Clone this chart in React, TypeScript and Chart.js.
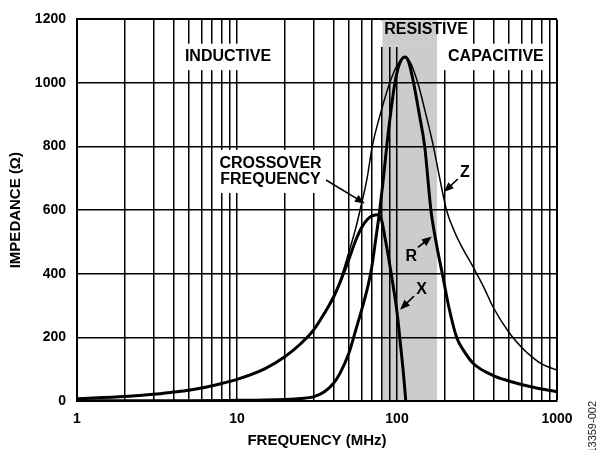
import React, { useEffect, useRef } from 'react';
import { Chart, registerables } from 'chart.js';

Chart.register(...registerables);

const FONT = '"Liberation Sans", Arial, Helvetica, sans-serif';

// Impedance magnitude Z (thin line)
const zFreq = [1, 2, 3, 4, 5, 6, 7, 8, 10, 15, 20, 25, 30, 35, 40, 44, 50, 55, 60, 65, 70, 80, 90, 100, 112, 120, 135, 150, 169, 185, 204, 230, 250, 300, 350, 400, 500, 600, 700, 800, 1000];
const zVals = [7, 14, 21, 28, 34, 41, 48, 55, 68, 102, 140, 180, 224, 276, 330, 378, 468, 540, 620, 700, 800, 915, 1000, 1055, 1080, 1068, 1000, 910, 800, 700, 600, 530, 492, 420, 356, 294, 216, 169, 138, 117, 97];

// Resistance R (thick line)
const rFreq = [1, 5, 10, 15, 20, 25, 30, 35, 40, 44, 50, 55, 60, 65, 69.5, 73, 78, 82, 88, 97, 104, 112, 118, 127, 138, 149, 163, 177, 192, 212, 236, 260, 300, 400, 500, 600, 700, 800, 1000];
const rVals = [1, 1, 2, 3, 5, 8, 13, 28, 55, 87, 150, 220, 285, 350, 420, 495, 600, 695, 840, 1000, 1062, 1082, 1068, 1000, 900, 800, 600, 490, 400, 290, 200, 160, 118, 80, 63, 52, 44, 38, 29];

// Reactance X (thick line)
const xFreq = [1, 2, 3, 4, 5, 6, 7, 8, 10, 15, 20, 25, 30, 35, 40, 44, 50, 55, 60, 65, 70, 76, 80, 84, 88, 91, 94.4, 100, 105, 110, 113.5];
const xVals = [7, 14, 21, 28, 34, 41, 48, 55, 68, 102, 140, 180, 222, 274, 325, 372, 445, 503, 545, 570, 582, 586, 570, 515, 460, 415, 365, 280, 180, 80, 0];

const gridFreqs = [1, 2, 3, 4, 5, 6, 7, 8, 9, 10, 20, 30, 40, 50, 60, 70, 80, 90, 100, 200, 300, 400, 500, 600, 700, 800, 900, 1000];
const labeledFreqs = [1, 10, 100, 1000];
const yTicks = [0, 200, 400, 600, 800, 1000, 1200];
const resistiveBand = [80, 178];

// Annotation anchors in data units (frequency MHz, impedance ohm)
const boxedLabels = [
  { lines: ['INDUCTIVE'], f: 8.79, v: 1082 },
  { lines: ['CAPACITIVE'], f: 415, v: 1082 },
  { lines: ['RESISTIVE'], f: 152, v: 1167 },
  { lines: ['CROSSOVER', 'FREQUENCY'], f: 16.2, v: 722 },
];
const letterLabels = [
  { text: 'Z', f: 266, v: 717, from: [240, 698], to: [196, 657] },
  { text: 'R', f: 123, v: 455, from: [135, 483], to: [165, 517] },
  { text: 'X', f: 142.6, v: 349, from: [127.7, 330], to: [104.5, 287] },
];
const crossoverArrow = { from: [36, 695], to: [63, 621] };

function drawArrow(ctx: CanvasRenderingContext2D, x0: number, y0: number, x1: number, y1: number) {
  const ang = Math.atan2(y1 - y0, x1 - x0);
  const head = 10;
  const half = 4;
  ctx.save();
  ctx.strokeStyle = '#000';
  ctx.fillStyle = '#000';
  ctx.lineWidth = 1.6;
  ctx.beginPath();
  ctx.moveTo(x0, y0);
  ctx.lineTo(x1 - Math.cos(ang) * head * 0.8, y1 - Math.sin(ang) * head * 0.8);
  ctx.stroke();
  ctx.beginPath();
  ctx.moveTo(x1, y1);
  ctx.lineTo(x1 - Math.cos(ang) * head - Math.sin(ang) * half, y1 - Math.sin(ang) * head + Math.cos(ang) * half);
  ctx.lineTo(x1 - Math.cos(ang) * head + Math.sin(ang) * half, y1 - Math.sin(ang) * head - Math.cos(ang) * half);
  ctx.closePath();
  ctx.fill();
  ctx.restore();
}

const overlayPlugin = {
  id: 'overlay',
  beforeDraw(chart: any) {
    const { ctx, chartArea, scales } = chart;
    const x0 = scales.x.getPixelForValue(resistiveBand[0]);
    const x1 = scales.x.getPixelForValue(resistiveBand[1]);
    ctx.save();
    ctx.fillStyle = '#cccccc';
    ctx.fillRect(x0, chartArea.top, x1 - x0, chartArea.bottom - chartArea.top);
    ctx.restore();
  },
  beforeDatasetsDraw(chart: any) {
    const { ctx, chartArea, scales } = chart;
    const bx0 = scales.x.getPixelForValue(resistiveBand[0]);
    const bx1 = scales.x.getPixelForValue(resistiveBand[1]);
    ctx.save();
    ctx.font = `bold 16px ${FONT}`;
    const lineH = 16.5;
    boxedLabels.forEach((lab) => {
      const cx = scales.x.getPixelForValue(lab.f);
      const cy = scales.y.getPixelForValue(lab.v);
      const w = Math.max(...lab.lines.map((l) => ctx.measureText(l).width)) + 10;
      const h = lab.lines.length * lineH + 10;
      const left = cx - w / 2;
      let top = cy - h / 2;
      if (top < chartArea.top + 1) top = chartArea.top + 1;
      ctx.fillStyle = '#ffffff';
      ctx.fillRect(left, top, w, h);
      const ix0 = Math.max(left, bx0 + 1);
      const ix1 = Math.min(left + w, bx1);
      if (ix1 > ix0) {
        ctx.fillStyle = '#cccccc';
        ctx.fillRect(ix0, top, ix1 - ix0, h);
      }
      ctx.fillStyle = '#000';
      ctx.textAlign = 'center';
      ctx.textBaseline = 'middle';
      lab.lines.forEach((l, i) => {
        ctx.fillText(l, cx, cy - ((lab.lines.length - 1) * lineH) / 2 + i * lineH);
      });
    });
    ctx.restore();
  },
  afterDatasetsDraw(chart: any) {
    const { ctx, scales } = chart;
    const px = (p: number[]) => [scales.x.getPixelForValue(p[0]), scales.y.getPixelForValue(p[1])];
    const a0 = px(crossoverArrow.from);
    const a1 = px(crossoverArrow.to);
    drawArrow(ctx, a0[0], a0[1], a1[0], a1[1]);
    ctx.save();
    ctx.font = `bold 16px ${FONT}`;
    ctx.fillStyle = '#000';
    ctx.textAlign = 'center';
    ctx.textBaseline = 'middle';
    letterLabels.forEach((lab) => {
      ctx.fillText(lab.text, scales.x.getPixelForValue(lab.f), scales.y.getPixelForValue(lab.v));
      const p0 = px(lab.from);
      const p1 = px(lab.to);
      drawArrow(ctx, p0[0], p0[1], p1[0], p1[1]);
    });
    ctx.restore();
  },
  afterDraw(chart: any) {
    const { ctx, chartArea } = chart;
    ctx.save();
    ctx.translate(chart.width - 4, chartArea.bottom);
    ctx.rotate(-Math.PI / 2);
    ctx.font = `11px ${FONT}`;
    ctx.fillStyle = '#222';
    ctx.textAlign = 'right';
    ctx.textBaseline = 'middle';
    ctx.fillText('13359-002', 0, 0);
    ctx.restore();
  },
};

export default function App() {
  const canvasRef = useRef<HTMLCanvasElement | null>(null);

  useEffect(() => {
    if (!canvasRef.current) return;
    const tickFont = { family: FONT, size: 14, weight: 'bold' as const };
    const titleFont = { family: FONT, size: 15, weight: 'bold' as const };
    const chart = new Chart(canvasRef.current, {
      type: 'line',
      data: {
        datasets: [
          {
            label: 'Z',
            data: zFreq.map((f, i) => ({ x: f, y: zVals[i] })),
            borderColor: '#000',
            borderWidth: 1.5,
            pointRadius: 0,
            fill: false,
            cubicInterpolationMode: 'monotone',
          },
          {
            label: 'R',
            data: rFreq.map((f, i) => ({ x: f, y: rVals[i] })),
            borderColor: '#000',
            borderWidth: 3,
            pointRadius: 0,
            fill: false,
            cubicInterpolationMode: 'monotone',
          },
          {
            label: 'X',
            data: xFreq.map((f, i) => ({ x: f, y: xVals[i] })),
            borderColor: '#000',
            borderWidth: 3,
            pointRadius: 0,
            fill: false,
            cubicInterpolationMode: 'monotone',
          },
        ],
      },
      options: {
        animation: false,
        responsive: false,
        events: [],
        layout: { padding: { top: 16, right: 40, left: 0, bottom: 0 } },
        plugins: { legend: { display: false }, tooltip: { enabled: false } },
        scales: {
          x: {
            type: 'logarithmic',
            min: 1,
            max: 1000,
            afterBuildTicks: (s: any) => {
              s.ticks = gridFreqs.map((v) => ({ value: v }));
            },
            afterFit: (s: any) => {
              s.height = 49;
            },
            ticks: {
              autoSkip: false,
              maxRotation: 0,
              padding: 10,
              color: '#000',
              font: tickFont,
              callback: (v: any) => (labeledFreqs.includes(Number(v)) ? String(v) : ''),
            },
            grid: {
              color: '#000',
              lineWidth: (c: any) => (c.tick && c.tick.value === 1000 ? 2 : 1.5),
              drawTicks: false,
            },
            border: { color: '#000', width: 2 },
            title: {
              display: true,
              text: 'FREQUENCY (MHz)',
              color: '#000',
              font: titleFont,
              padding: { top: 0, bottom: 0 },
            },
          },
          y: {
            min: 0,
            max: 1200,
            afterBuildTicks: (s: any) => {
              s.ticks = yTicks.map((v) => ({ value: v }));
            },
            afterFit: (s: any) => {
              s.width = 77;
            },
            ticks: {
              padding: 11,
              color: '#000',
              font: tickFont,
              callback: (v: any) => String(v),
            },
            grid: {
              color: '#000',
              lineWidth: (c: any) => (c.tick && c.tick.value === 1200 ? 2 : 1.5),
              drawTicks: false,
            },
            border: { color: '#000', width: 2 },
            title: {
              display: true,
              text: 'IMPEDANCE (Ω)',
              color: '#000',
              font: titleFont,
              padding: { top: 7, bottom: 0 },
            },
          },
        },
      },
      plugins: [overlayPlugin],
    } as any);
    return () => chart.destroy();
  }, []);

  return (
    <div style={{ position: 'absolute', left: 0, top: 0, width: 597, height: 450, background: '#fff' }}>
      <canvas ref={canvasRef} width={597} height={450} />
    </div>
  );
}
